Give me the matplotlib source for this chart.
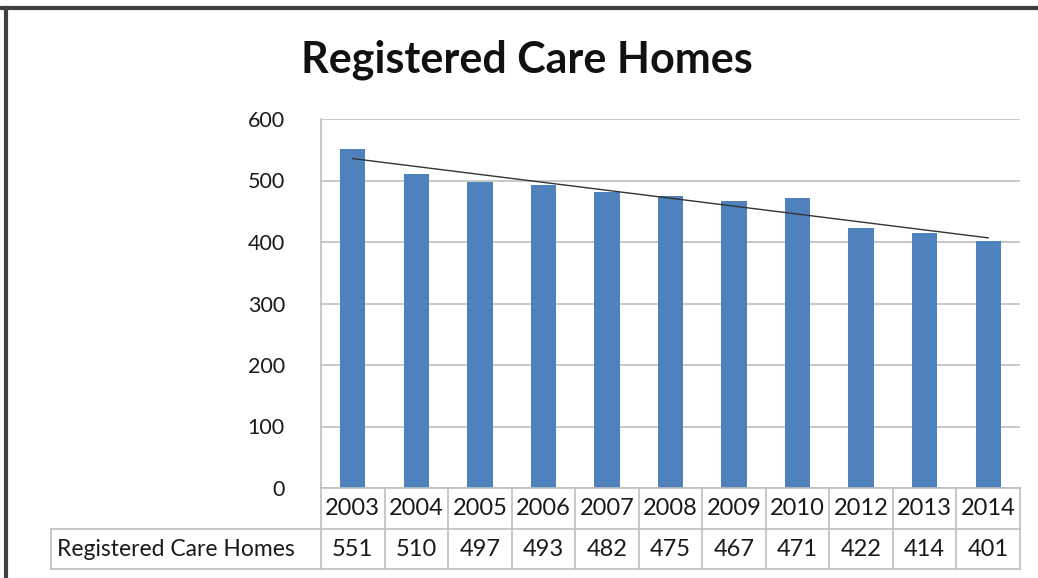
import numpy as np
import matplotlib
matplotlib.use("Agg")
from matplotlib import pyplot as plt
from matplotlib.lines import Line2D

plt.rcParams['font.family'] = ['Lato', 'DejaVu Sans']

# data
years = ["2003", "2004", "2005", "2006", "2007", "2008", "2009", "2010", "2012", "2013", "2014"]
care_homes = [551, 510, 497, 493, 482, 475, 467, 471, 422, 414, 401]
series_name = "Registered Care Homes"
y_ticks = [0, 100, 200, 300, 400, 500, 600]

bar_color = "#4F81BD"
grid_color = "#BFBFBF"
text_color = "#1a1a1a"

W, H = 1038, 578
fig = plt.figure(figsize=(W / 100, H / 100), dpi=100)
ax = fig.add_axes([321 / W, 1 - 488 / H, (1020 - 321) / W, (488 - 119) / H])

x = np.arange(len(years))
ax.bar(x, care_homes, width=0.4, color=bar_color, zorder=2)

# linear trendline like excel
coef = np.polyfit(x, care_homes, 1)
ax.plot(x, np.polyval(coef, x), color="#333333", lw=1.0, zorder=3)

ax.set_xlim(-0.5, len(years) - 0.5)
ax.set_ylim(0, 600)
ax.set_yticks(y_ticks)
ax.set_xticks([])
ax.yaxis.grid(True, color=grid_color, lw=1.2, zorder=0)
ax.tick_params(axis="y", length=0, pad=26, labelsize=15.5, labelcolor=text_color)
for s in ["top", "right", "bottom"]:
    ax.spines[s].set_visible(False)
ax.spines["left"].set_color(grid_color)
ax.spines["left"].set_linewidth(1.2)

# data table under the chart
row1 = -41 / 369
row2 = -81 / 369
tr = ax.get_xaxis_transform()
lk = dict(color=grid_color, lw=1.2, clip_on=False, transform=tr)
ax.plot([-0.5, len(years) - 0.5], [0, 0], **lk)
ax.plot([-0.5, len(years) - 0.5], [row1, row1], **lk)
ax.plot([-0.5, len(years) - 0.5], [row2, row2], **lk)
for i in range(len(years) + 1):
    ax.plot([i - 0.5, i - 0.5], [0, row2], **lk)
for i, (yr, v) in enumerate(zip(years, care_homes)):
    ax.text(i, row1 / 2, yr, ha="center", va="center", fontsize=17,
            color=text_color, transform=tr)
    ax.text(i, (row1 + row2) / 2, str(v), ha="center", va="center", fontsize=17,
            color=text_color, transform=tr)

# label cell of the table in figure coords
lab_l = 51 / W
lab_r = 321 / W
y_top = 1 - 529 / H
y_bot = 1 - 569 / H
for xs, ys in [([lab_l, lab_r], [y_top, y_top]), ([lab_l, lab_r], [y_bot, y_bot]),
               ([lab_l, lab_l], [y_top, y_bot])]:
    fig.add_artist(Line2D(xs, ys, color=grid_color, lw=1.2))
fig.text(57 / W, (y_top + y_bot) / 2, series_name, ha="left",
         va="center", fontsize=16.5, color=text_color)

fig.text(527 / W, 1 - 60 / H, "Registered Care Homes", ha="center", va="center",
         fontsize=31, fontweight="bold", color="#111111")

# dark frame on top and left
fig.add_artist(Line2D([0, 1], [1 - 8 / H, 1 - 8 / H], color="#404040", lw=3))
fig.add_artist(Line2D([6 / W, 6 / W], [0, 1 - 8 / H], color="#404040", lw=3))

fig.savefig("out.png", dpi=100, facecolor="white")
